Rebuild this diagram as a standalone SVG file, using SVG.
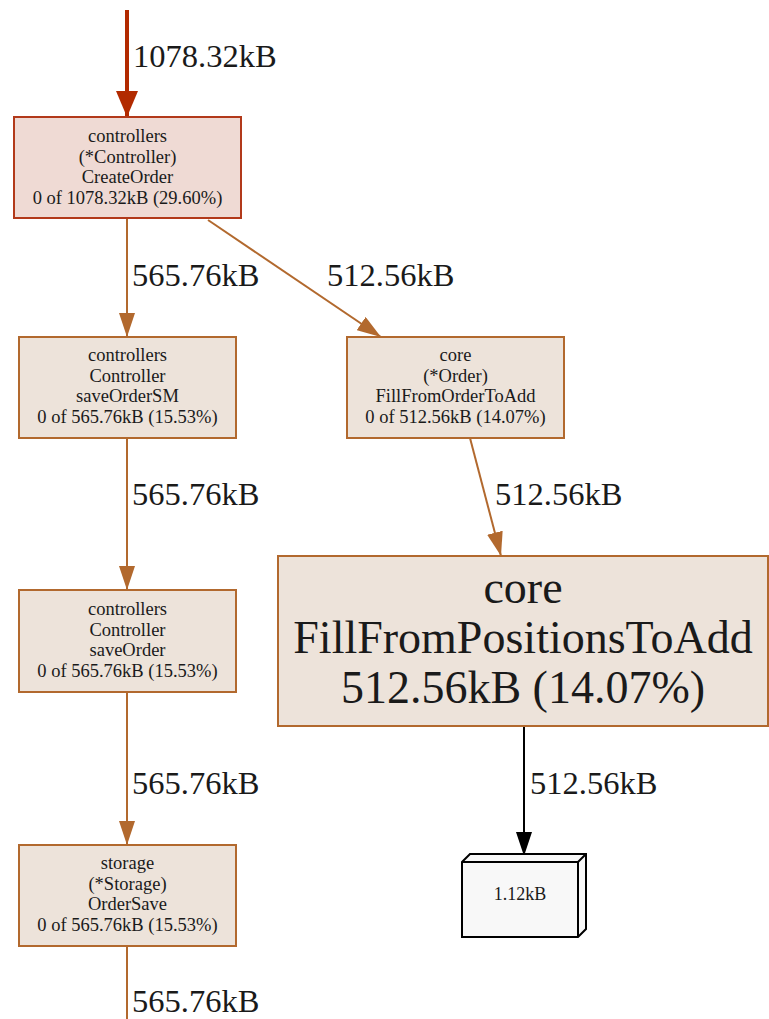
<svg xmlns="http://www.w3.org/2000/svg" width="769" height="1019" viewBox="0 0 769 1019">
<style>
text{font-family:"Liberation Serif","Times New Roman",serif;fill:#1a1a1a;text-anchor:middle}
.s{font-size:18.5px}
.b{font-size:46px}
.lbl{font-size:32.5px;text-anchor:start}
.n{fill:#ede3da;stroke:#b2692e;stroke-width:2}
.n1{fill:#efdad4;stroke:#b2391a;stroke-width:2}
.e{fill:none;stroke:#b2692e;stroke-width:2}
</style>
<defs>
<marker id="ar" markerUnits="userSpaceOnUse" markerWidth="26" markerHeight="22" refX="26" refY="11" orient="auto"><path d="M0,0L26,11L0,22z" fill="#b22a00"/></marker>
<marker id="ao" markerUnits="userSpaceOnUse" markerWidth="24" markerHeight="16" refX="24" refY="8" orient="auto"><path d="M0,0L24,8L0,16z" fill="#b2692e"/></marker>
<marker id="ak" markerUnits="userSpaceOnUse" markerWidth="24" markerHeight="16" refX="24" refY="8" orient="auto"><path d="M0,0L24,8L0,16z" fill="#000"/></marker>
</defs>
<g id="connectors">
<line x1="127" y1="10" x2="127" y2="117" stroke="#b22a00" stroke-width="4" marker-end="url(#ar)"/>
<text class="lbl" x="133" y="67">1078.32kB</text>
<line class="e" x1="127" y1="218" x2="127" y2="337" marker-end="url(#ao)"/>
<text class="lbl" x="132" y="286">565.76kB</text>
<line class="e" x1="208" y1="220" x2="381" y2="337" marker-end="url(#ao)"/>
<text class="lbl" x="327" y="286">512.56kB</text>
<line class="e" x1="127" y1="438" x2="127" y2="590" marker-end="url(#ao)"/>
<text class="lbl" x="132" y="505">565.76kB</text>
<line class="e" x1="470" y1="438" x2="501" y2="556" marker-end="url(#ao)"/>
<text class="lbl" x="495" y="505">512.56kB</text>
<line class="e" x1="127" y1="692" x2="127" y2="845" marker-end="url(#ao)"/>
<text class="lbl" x="132" y="794">565.76kB</text>
<line class="e" x1="127" y1="946" x2="127" y2="1019"/>
<text class="lbl" x="132" y="1012">565.76kB</text>
<line x1="524" y1="726" x2="524" y2="856" stroke="#000" stroke-width="2" marker-end="url(#ak)"/>
<text class="lbl" x="530" y="794">512.56kB</text>
</g>
<g id="n1">
<rect class="n1" x="14" y="117" width="227" height="101"/>
<text class="s" x="127.5" y="142">controllers</text>
<text class="s" x="127.5" y="162.5">(*Controller)</text>
<text class="s" x="127.5" y="183">CreateOrder</text>
<text class="s" x="127.5" y="203.5">0 of 1078.32kB (29.60%)</text>
</g>
<g id="n2">
<rect class="n" x="19" y="337" width="217" height="101"/>
<text class="s" x="127.5" y="361">controllers</text>
<text class="s" x="127.5" y="381.5">Controller</text>
<text class="s" x="127.5" y="402">saveOrderSM</text>
<text class="s" x="127.5" y="422.5">0 of 565.76kB (15.53%)</text>
</g>
<g id="n3">
<rect class="n" x="347" y="337" width="217" height="101"/>
<text class="s" x="455.5" y="361">core</text>
<text class="s" x="455.5" y="381.5">(*Order)</text>
<text class="s" x="455.5" y="402">FillFromOrderToAdd</text>
<text class="s" x="455.5" y="422.5">0 of 512.56kB (14.07%)</text>
</g>
<g id="n4">
<rect class="n" x="19" y="590" width="217" height="102"/>
<text class="s" x="127.5" y="615">controllers</text>
<text class="s" x="127.5" y="635.5">Controller</text>
<text class="s" x="127.5" y="656">saveOrder</text>
<text class="s" x="127.5" y="676.5">0 of 565.76kB (15.53%)</text>
</g>
<g id="n5">
<rect class="n" x="19" y="845" width="217" height="101"/>
<text class="s" x="127.5" y="869">storage</text>
<text class="s" x="127.5" y="889.5">(*Storage)</text>
<text class="s" x="127.5" y="910">OrderSave</text>
<text class="s" x="127.5" y="930.5">0 of 565.76kB (15.53%)</text>
</g>
<g id="n6">
<rect class="n" x="278" y="556" width="490" height="170"/>
<text class="b" x="523" y="603">core</text>
<text class="b" x="523" y="653">FillFromPositionsToAdd</text>
<text class="b" x="523" y="703">512.56kB (14.07%)</text>
</g>
<g id="n7" fill="#f8f8f8" stroke="#000" stroke-width="2">
<path d="M462,862L470,854L586,854L586,929L578,937L462,937z"/>
<path d="M462,862L578,862L586,854M578,862L578,937" fill="none"/>
<text class="s" x="520" y="900" stroke="none" style="font-size:18px">1.12kB</text>
</g>
</svg>
